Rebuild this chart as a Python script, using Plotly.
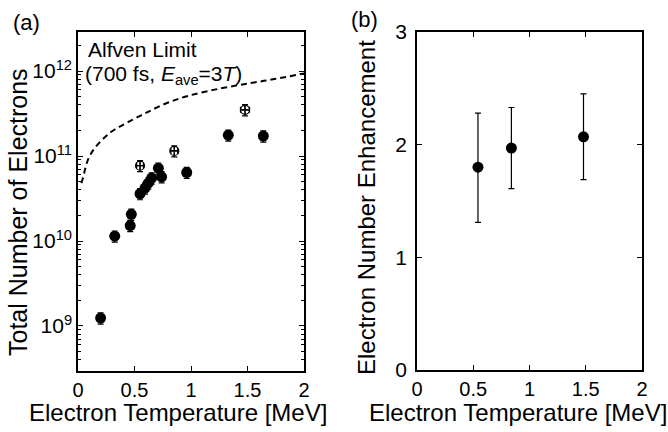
import plotly.graph_objects as go

# ---- Panel (a) data ----
t_filled = [0.20, 0.325, 0.462, 0.472, 0.549, 0.593, 0.622, 0.652, 0.711, 0.74, 0.962, 1.33, 1.64]
n_filled = [1.24e9, 1.14e10, 1.52e10, 2.06e10, 3.6e10, 4.2e10, 4.8e10, 5.5e10, 7.2e10, 5.7e10, 6.4e10, 1.76e11, 1.72e11]
n_filled_err_pct = 15

t_open = [0.549, 0.852, 1.478]
n_open = [7.7e10, 1.15e11, 3.5e11]
t_open_err = [0.03, 0.03, 0.04]
n_open_err_pct = 15

# Alfven limit curve
t_alfven = [0.03, 0.044, 0.066, 0.088, 0.13, 0.177, 0.235, 0.295, 0.37, 0.442, 0.59, 0.767, 0.973, 1.25, 1.52, 1.75, 2.0]
n_alfven = [4.8e10, 5.5e10, 7.3e10, 9.0e10, 1.15e11, 1.38e11, 1.65e11, 1.93e11, 2.22e11, 2.5e11, 3.16e11, 4.1e11, 5.1e11, 6.2e11, 7.2e11, 8.1e11, 9.4e11]

y_tickvals = [1e9, 1e10, 1e11, 1e12]
y_ticktext = ["10<sup>9</sup>", "10<sup>10</sup>", "10<sup>11</sup>", "10<sup>12</sup>"]

# ---- Panel (b) data ----
t_b = [0.542, 0.839, 1.48]
enh_b = [1.80, 1.97, 2.07]
enh_plus = [0.48, 0.36, 0.38]
enh_minus = [0.49, 0.36, 0.38]

x_ticks = [0, 0.5, 1, 1.5, 2]
x_ticktext = ["0", "0.5", "1", "1.5", "2"]

FONT = "Liberation Sans, Arial, Helvetica, sans-serif"

fig = go.Figure()

fig.add_trace(go.Scatter(
    x=t_alfven, y=n_alfven, mode="lines", line=dict(color="black", width=2, dash="6px,4px", shape="spline"),
    xaxis="x", yaxis="y", showlegend=False))

fig.add_trace(go.Scatter(
    x=t_filled, y=n_filled, mode="markers",
    marker=dict(symbol="circle", size=11, color="black"),
    error_y=dict(type="percent", value=n_filled_err_pct, color="black", thickness=1.2, width=3),
    xaxis="x", yaxis="y", showlegend=False))

fig.add_trace(go.Scatter(
    x=t_open, y=n_open, mode="markers",
    marker=dict(symbol="circle-cross-open", size=9, color="black", line=dict(width=1.2)),
    error_y=dict(type="percent", value=n_open_err_pct, color="black", thickness=1.2, width=3),
    error_x=dict(type="data", array=t_open_err, color="black", thickness=1.2, width=3),
    xaxis="x", yaxis="y", showlegend=False))

fig.add_trace(go.Scatter(
    x=t_b, y=enh_b, mode="markers",
    marker=dict(symbol="circle", size=11, color="black"),
    error_y=dict(type="data", symmetric=False, array=enh_plus, arrayminus=enh_minus,
                 color="black", thickness=1.2, width=3),
    xaxis="x2", yaxis="y2", showlegend=False))

W, H = 668, 432
axis_common = dict(showline=True, linecolor="black", linewidth=1.5, mirror="ticks",
                   ticks="inside", ticklen=5, tickwidth=1.2, tickcolor="black",
                   showgrid=False, zeroline=False, automargin=False)
x_tickfont = dict(family=FONT, size=20, color="black")
y_tickfont = dict(family=FONT, size=21, color="black")


def px_x(v):
    return v / W


def px_y(v):
    return 1 - v / H


def label(text, x, y, size, angle=0, anchor="center"):
    return dict(text=text, x=px_x(x), y=px_y(y), xref="paper", yref="paper", xanchor=anchor,
                yanchor="middle", showarrow=False, textangle=angle, font=dict(size=size, family=FONT))


fig.update_layout(
    width=W, height=H,
    margin=dict(l=0, r=0, t=0, b=0, autoexpand=False),
    paper_bgcolor="white", plot_bgcolor="white",
    font=dict(family=FONT, color="black"),
    xaxis=dict(domain=[78 / W, 304 / W], range=[0, 2], tickvals=x_ticks, ticktext=x_ticktext,
               tickfont=x_tickfont, anchor="y", **axis_common),
    yaxis=dict(domain=[(H - 371) / H, (H - 32) / H], type="log", range=[8.47, 12.46],
               tickvals=y_tickvals, ticktext=y_ticktext, tickfont=y_tickfont,
               minor=dict(ticks="inside", ticklen=3, tickcolor="black", tickwidth=1,
                          dtick="D1", showgrid=False),
               anchor="x", **axis_common),
    xaxis2=dict(domain=[417 / W, 642 / W], range=[0, 2], tickvals=x_ticks, ticktext=x_ticktext,
                tickfont=x_tickfont, anchor="y2", **axis_common),
    yaxis2=dict(domain=[(H - 370) / H, (H - 32) / H], range=[0, 3], tickvals=[0, 1, 2, 3],
                tickfont=y_tickfont, ticklabelstandoff=4, anchor="x2", **axis_common),
    annotations=[
        label("(a)", 11, 22, 22, anchor="left"),
        label("(b)", 349, 20, 22, anchor="left"),
        label("Alfven Limit", 86, 50, 21, anchor="left"),
        label("(700 fs, <i>E</i><sub>ave</sub>=3<i>T</i>)", 83, 75, 21, anchor="left"),
        label("Electron Temperature [MeV]", 178, 412, 24),
        label("Electron Temperature [MeV]", 518, 412, 24),
        label("Total Number of Electrons", 18, 212, 25, angle=-90),
        label("Electron Number Enhancement", 367, 208, 24, angle=-90),
    ],
)

fig.write_html("out.html", config={"displayModeBar": False},
               post_script="document.body.style.margin='0';document.body.style.overflow='hidden';")
